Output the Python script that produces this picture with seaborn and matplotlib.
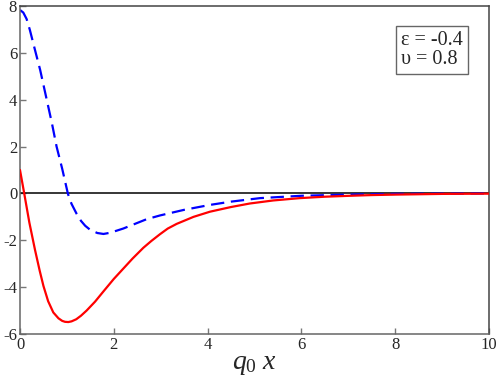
import numpy as np
import pandas as pd
import matplotlib
matplotlib.use("Agg")
import matplotlib.pyplot as plt
import seaborn as sns

# ==========================================
# DATA
# ==========================================
red_x = [0, 0.09, 0.2, 0.32, 0.42, 0.5, 0.6, 0.71, 0.82, 0.9, 0.96, 1.03, 1.1, 1.2,
         1.3, 1.42, 1.6, 1.78, 2.0, 2.17, 2.4, 2.63, 2.8, 2.985, 3.15, 3.34, 3.7,
         4.05, 4.5, 4.9, 5.4, 5.97, 6.5, 7.04, 7.5, 8, 9, 10]
red_y = [1.0, 0.0, -1.25, -2.41, -3.3, -3.95, -4.6, -5.08, -5.33, -5.44, -5.48,
         -5.49, -5.46, -5.37, -5.22, -5.0, -4.62, -4.18, -3.65, -3.28, -2.78, -2.32,
         -2.03, -1.74, -1.5, -1.3, -1.0, -0.78, -0.58, -0.43, -0.3, -0.2, -0.14,
         -0.1, -0.07, -0.05, -0.02, -0.01]

blue_x = [0, 0.07, 0.14, 0.21, 0.32, 0.43, 0.57, 0.68, 0.78, 0.9, 1.02, 1.06, 1.1,
          1.21, 1.3, 1.39, 1.5, 1.65, 1.78, 1.92, 2.2, 2.45, 2.7, 2.985, 3.5, 4.05,
          4.5, 5.12, 6, 7, 8, 9, 10]
blue_y = [7.83, 7.72, 7.45, 6.98, 6.12, 5.27, 4.0, 3.0, 2.0, 1.05, 0.0, -0.25,
          -0.45, -0.88, -1.17, -1.38, -1.56, -1.69, -1.73, -1.68, -1.5, -1.3, -1.1,
          -0.94, -0.7, -0.49, -0.35, -0.2, -0.1, -0.05, -0.02, -0.01, 0.0]

x_ticks = [0, 2, 4, 6, 8, 10]
y_ticks = [-6, -4, -2, 0, 2, 4, 6, 8]
params_text = "\u03b5 = -0.4\n\u03c5 = 0.8"

red_df = pd.DataFrame({"x": red_x, "y": red_y})
blue_df = pd.DataFrame({"x": blue_x, "y": blue_y})

# ==========================================
# PLOT
# ==========================================
sns.set_theme(style="white")
plt.rcParams["font.family"] = ["Liberation Serif", "DejaVu Serif"]
plt.rcParams["mathtext.fontset"] = "custom"
plt.rcParams["mathtext.rm"] = "Liberation Serif"
plt.rcParams["mathtext.it"] = "Liberation Serif:italic"

fig = plt.figure(figsize=(4.98, 3.8), dpi=100)
ax = fig.add_axes([20 / 498, 1 - 334 / 380, 469 / 498, 328 / 380])

ax.axhline(0, color="black", lw=1.1, zorder=1)
sns.lineplot(data=red_df, x="x", y="y", ax=ax, color="red", lw=1.6,
             estimator=None, sort=False, zorder=3)
sns.lineplot(data=blue_df, x="x", y="y", ax=ax, color="blue", lw=1.6,
             estimator=None, sort=False, zorder=2)
ax.lines[-1].set_dashes((6, 3))

ax.set_xlim(0, 10)
ax.set_ylim(-6, 8)
ax.set_xticks(x_ticks)
ax.set_yticks(y_ticks)
ax.set_xticklabels([str(t) for t in x_ticks])
ax.set_yticklabels([str(t) for t in y_ticks])
ax.tick_params(direction="in", length=4, width=1, color="#777777",
               labelsize=12, bottom=True, left=True, top=False, right=False)
ax.tick_params(axis="x", pad=2.5)
ax.tick_params(axis="y", pad=2)

for side in ["left", "bottom"]:
    ax.spines[side].set_color("#666666")
    ax.spines[side].set_linewidth(1.1)
for side in ["top", "right"]:
    ax.spines[side].set_color("#444444")
    ax.spines[side].set_linewidth(1.1)

ax.set_xlabel(r"$\mathit{q_0\ x}$", fontsize=20, labelpad=-1)
ax.set_ylabel("")

ax.text(0.812, 0.925, params_text, transform=ax.transAxes, fontsize=14.5,
        va="top", ha="left", linespacing=1.0,
        bbox=dict(boxstyle="square,pad=0.25", fc="white", ec="#666666", lw=1))

fig.savefig("out.png", dpi=100)
